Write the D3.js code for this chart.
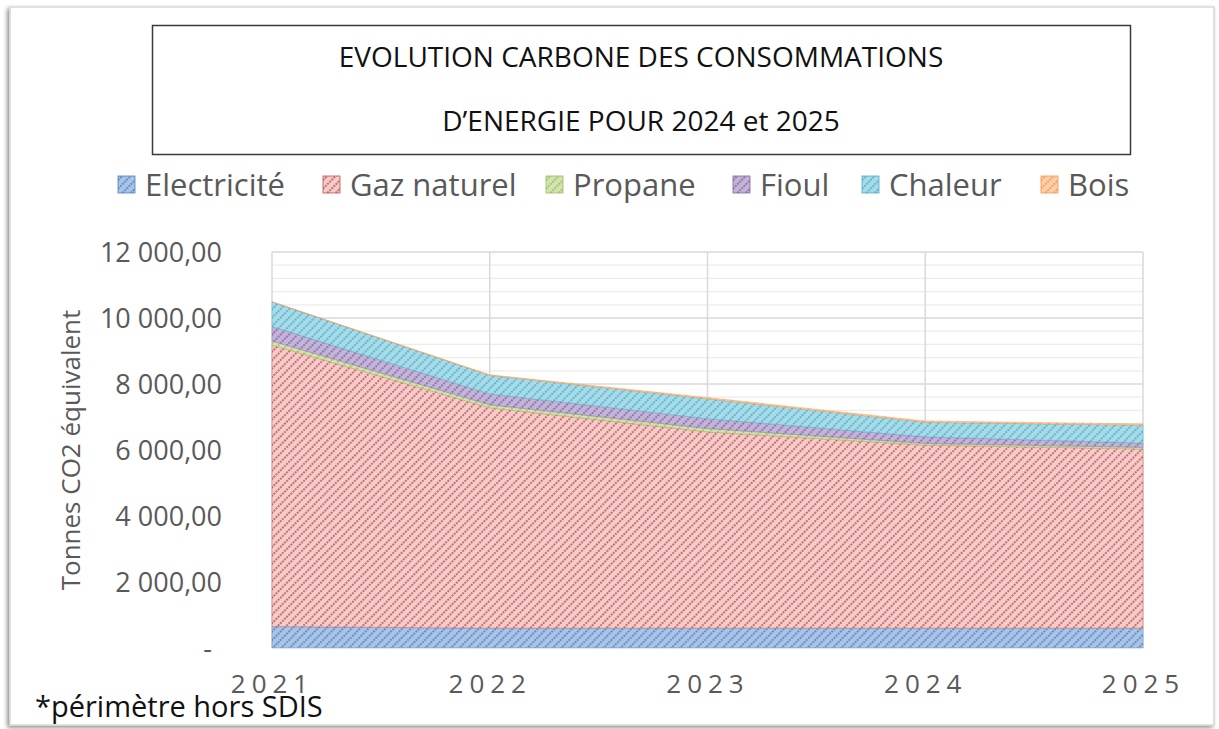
<!DOCTYPE html>
<html>
<head>
<meta charset="utf-8">
<script src="https://cdn.jsdelivr.net/npm/d3@7"></script>
<style>
  body { margin: 0; background: #fff; }
  text { font-family: "Open Sans", Lato, sans-serif; }
</style>
</head>
<body>
<svg width="1219" height="729"></svg>
<script>
// data
const years = [2021, 2022, 2023, 2024, 2025]
const series = ['Electricité', 'Gaz naturel', 'Propane', 'Fioul', 'Chaleur', 'Bois']
const electricite = [650, 600, 600, 600, 600]
const gazNaturel = [8530, 6680, 5950, 5550, 5430]
const propane = [120, 90, 100, 50, 50]
const fioul = [440, 330, 300, 200, 130]
const chaleur = [750, 560, 600, 440, 540]
const bois = [0, 20, 40, 40, 40]
const yTicks = [0, 2000, 4000, 6000, 8000, 10000, 12000]

const colors = {
    'Electricité': ['#4f81bd', '#a9c4e6'],
    'Gaz naturel': ['#c0504d', '#f4cccb'],
    'Propane': ['#9bbb59', '#d2e3b4'],
    'Fioul': ['#8064a2', '#c3b4d8'],
    'Chaleur': ['#4bacc6', '#a8dbe8'],
    'Bois': ['#f79646', '#fbcfa8']
}

const rows = years.map((y, i) => ({
    year: y,
    'Electricité': electricite[i],
    'Gaz naturel': gazNaturel[i],
    'Propane': propane[i],
    'Fioul': fioul[i],
    'Chaleur': chaleur[i],
    'Bois': bois[i]
}))

const svg = d3.select('svg')
const defs = svg.append('defs')

// outer frame with a soft shadow
const f = defs.append('filter').attr('id', 'shadow')
    .attr('x', -0.05).attr('y', -0.05).attr('width', 1.1).attr('height', 1.1)
f.append('feDropShadow').attr('dx', -2).attr('dy', 2).attr('stdDeviation', 2)
    .attr('flood-color', '#000').attr('flood-opacity', 0.45)
svg.append('rect')
    .attr('x', 10).attr('y', 7).attr('width', 1204).attr('height', 718)
    .attr('fill', '#fff').attr('stroke', '#d9d9d9').attr('stroke-width', 1.5)
    .attr('filter', 'url(#shadow)')

// hatch patterns, like excel's dotted upward diagonal
series.forEach((s, i) => {
    const [dark, light] = colors[s]
    const p = defs.append('pattern')
        .attr('id', 'hatch' + i)
        .attr('patternUnits', 'userSpaceOnUse')
        .attr('width', 6).attr('height', 6)
        .attr('patternTransform', 'rotate(-45)')
    p.append('rect').attr('width', 6).attr('height', 6).attr('fill', light)
    p.append('line').attr('x1', 0).attr('y1', 3).attr('x2', 6).attr('y2', 3)
        .attr('stroke', dark).attr('stroke-width', 1.4).attr('stroke-dasharray', '2 1')
})

// title box
svg.append('rect')
    .attr('x', 152.5).attr('y', 25.5).attr('width', 978).attr('height', 129)
    .attr('fill', '#fff').attr('stroke', '#3a3a3a').attr('stroke-width', 1.5)
svg.append('text').attr('x', 641).attr('y', 67).attr('text-anchor', 'middle')
    .attr('font-size', 28).attr('fill', '#111')
    .text('EVOLUTION CARBONE DES CONSOMMATIONS')
svg.append('text').attr('x', 641).attr('y', 131).attr('text-anchor', 'middle')
    .attr('font-size', 28).attr('fill', '#111')
    .text('D\u2019ENERGIE POUR 2024 et 2025')

// legend
const legendX = [118, 323, 546, 733, 862, 1041]
const legend = svg.append('g').selectAll('g')
    .data(series)
    .enter()
    .append('g')
    .attr('transform', (d, i) => `translate(${legendX[i]},176)`)
legend.append('rect')
    .attr('width', 17).attr('height', 17)
    .attr('fill', (d, i) => `url(#hatch${i})`)
    .attr('stroke', d => colors[d][0]).attr('stroke-width', 0.8)
legend.append('text')
    .attr('x', 27).attr('y', 20)
    .attr('font-size', 31).attr('fill', '#595959')
    .text(d => d)

// scales
const margin = { left: 272, right: 1143, top: 252, bottom: 648 }
const x = d3.scaleLinear().domain([2021, 2025]).range([margin.left, margin.right])
const y = d3.scaleLinear().domain([0, 12000]).range([margin.bottom, margin.top])

// gridlines: light ones every 400, darker ones on the labelled ticks
const grid = svg.append('g')
grid.selectAll('line.minor')
    .data(d3.range(400, 12001, 400).filter(v => v % 2000 !== 0))
    .enter().append('line')
    .attr('x1', margin.left).attr('x2', margin.right)
    .attr('y1', d => y(d)).attr('y2', d => y(d))
    .attr('stroke', '#ececec').attr('stroke-width', 1.2)
grid.selectAll('line.major')
    .data(yTicks.slice(1))
    .enter().append('line')
    .attr('x1', margin.left).attr('x2', margin.right)
    .attr('y1', d => y(d)).attr('y2', d => y(d))
    .attr('stroke', '#d9d9d9').attr('stroke-width', 1.5)
grid.selectAll('line.vert')
    .data(years)
    .enter().append('line')
    .attr('x1', d => x(d)).attr('x2', d => x(d))
    .attr('y1', margin.top).attr('y2', margin.bottom)
    .attr('stroke', '#d9d9d9').attr('stroke-width', 1.5)

// stacked areas
const stack = d3.stack().keys(series)
const layers = stack(rows)
const area = d3.area()
    .x(d => x(d.data.year))
    .y0(d => y(d[0]))
    .y1(d => y(d[1]))

svg.append('g').selectAll('path')
    .data(layers)
    .enter().append('path')
    .attr('d', area)
    .attr('fill', (d, i) => `url(#hatch${i})`)
    .attr('stroke', (d, i) => colors[series[i]][0])
    .attr('stroke-width', 0.6)
    .attr('stroke-opacity', 0.7)

// y axis
const yAxis = d3.axisLeft(y)
    .tickValues(yTicks)
    .tickSize(0)
    .tickFormat(d => d === 0 ? '-' : d3.format(',.2f')(d).replace(/,/g, ' ').replace('.', ','))
const ya = svg.append('g')
    .attr('transform', `translate(${margin.left - 47},0)`)
    .call(yAxis)
ya.select('.domain').remove()
ya.selectAll('text')
    .attr('font-size', 27).attr('fill', '#595959')
    .attr('font-family', '"Open Sans", Lato, sans-serif')
    .attr('dy', '0.35em')
ya.selectAll('.tick').filter(d => d === 0).select('text')
    .attr('x', -13)

svg.append('text')
    .attr('transform', 'translate(80,450) rotate(-90)')
    .attr('text-anchor', 'middle')
    .attr('font-size', 26).attr('fill', '#595959')
    .text('Tonnes CO2 équivalent')

// x axis
const xAxis = d3.axisBottom(x).tickValues(years).tickSize(0).tickFormat(d3.format('d'))
const xa = svg.append('g')
    .attr('transform', `translate(0,${margin.bottom + 24})`)
    .call(xAxis)
xa.select('.domain').remove()
xa.selectAll('text')
    .attr('font-size', 26).attr('fill', '#595959')
    .attr('letter-spacing', 6)
    .attr('font-family', '"Open Sans", Lato, sans-serif')

// footnote
svg.append('text')
    .attr('x', 35).attr('y', 717)
    .attr('font-size', 29).attr('fill', '#111')
    .text('*périmètre hors SDIS')
</script>
</body>
</html>
